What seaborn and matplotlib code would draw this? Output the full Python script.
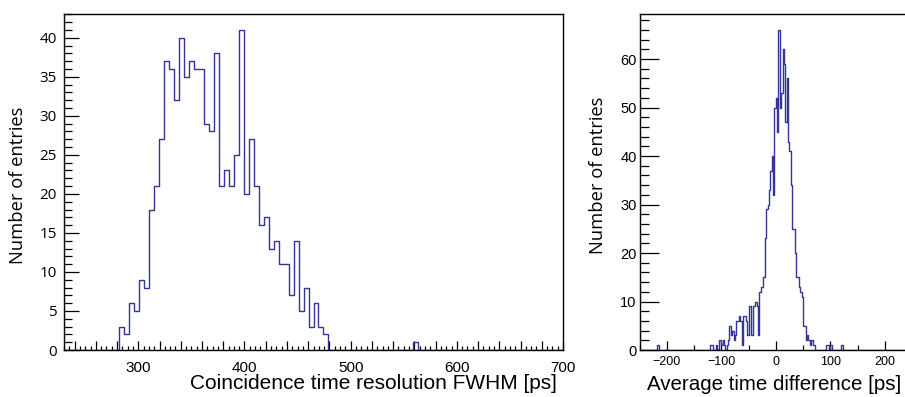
import numpy as np
import pandas as pd
import matplotlib
matplotlib.use("Agg")
import matplotlib.pyplot as plt
import seaborn as sns
from matplotlib.ticker import MultipleLocator, FuncFormatter

# ---------------- data ----------------
left_range = (230.0, 700.0)
left_nbins = 100
left_first_bin = 11
left_counts = [3, 2, 6, 5, 9, 8, 18, 21, 27, 37, 36, 32, 40, 35, 37, 36, 36,
               29, 28, 38, 21, 23, 21, 25, 41, 20, 27, 21, 16, 17, 13, 14,
               11, 11, 7, 14, 5, 8, 3, 6, 3, 2]
left_extra_bins = [70]
left_extra_counts = [1]

right_range = (-250.0, 250.0)
right_bin_width = 2.5
right_first_left = -120.0
right_counts = [1, 1, 0, 0, 1, 0, 2, 2, 1, 2, 1, 0, 1, 2, 5, 3, 4, 2, 3, 6,
                6, 7, 6, 1, 7, 7, 6, 3, 9, 9, 3, 9, 9, 10, 9, 3, 12, 13, 13,
                15, 23, 29, 30, 33, 37, 40, 32, 50, 52, 45, 66, 50, 53, 62,
                59, 47, 56, 43, 41, 34, 25, 25, 20, 15, 15, 13, 12, 11, 5, 5,
                2, 3, 2, 1, 2, 1, 1]
right_extra_lefts = [-217.5, 92.5, 95.0, 100.0, 120.0]
right_extra_counts = [1, 1, 1, 1, 1]

left_xlabel = "Coincidence time resolution FWHM [ps]"
right_xlabel = "Average time difference [ps]"
ylabel = "Number of entries"

# ---------------- build tables ----------------
left_edges = np.linspace(left_range[0], left_range[1], left_nbins + 1)
lw_bin = left_edges[1] - left_edges[0]
l_bins = list(range(left_first_bin, left_first_bin + len(left_counts))) + left_extra_bins
l_w = left_counts + left_extra_counts
left_df = pd.DataFrame({"x": [left_edges[k] + lw_bin / 2 for k in l_bins], "w": l_w})

right_edges = np.arange(right_range[0], right_range[1] + 1e-9, right_bin_width)
r_lefts = [right_first_left + right_bin_width * i for i in range(len(right_counts))] + right_extra_lefts
r_w = right_counts + right_extra_counts
right_df = pd.DataFrame({"x": [v + right_bin_width / 2 for v in r_lefts], "w": r_w})

# ---------------- plot ----------------
sns.set_style("white")
plt.rcParams["font.family"] = ["Liberation Sans", "DejaVu Sans"]
plt.rcParams["text.color"] = "black"
plt.rcParams["axes.labelcolor"] = "black"
HC = "#34349a"

fig = plt.figure(figsize=(9.05, 3.97), dpi=100)
axL = fig.add_axes([64 / 905, 47 / 397, 499 / 905, 336 / 397])
axR = fig.add_axes([639.5 / 905, 47 / 397, 272.5 / 905, 336 / 397])

sns.histplot(data=left_df, x="x", weights="w", bins=list(left_edges), element="step",
             fill=False, color=HC, linewidth=1.0, ax=axL)
sns.histplot(data=right_df, x="x", weights="w", bins=list(right_edges), element="step",
             fill=False, color=HC, linewidth=1.0, ax=axR)

axL.set_xlim(*left_range)
axL.set_ylim(0, max(left_counts) * 1.05)
axR.set_xlim(*right_range)
axR.set_ylim(0, max(right_counts) * 1.05)

for ax in (axL, axR):
    for s in ax.spines.values():
        s.set_color("black")
        s.set_linewidth(1.0)
    ax.tick_params(which="both", direction="in", bottom=True, left=True,
                   top=False, right=False, colors="black", labelcolor="black",
                   width=0.9)

# left axes ticks
axL.xaxis.set_major_locator(MultipleLocator(20))
axL.xaxis.set_minor_locator(MultipleLocator(5))
axL.xaxis.set_major_formatter(FuncFormatter(lambda v, p: f"{v:.0f}" if abs(v % 100) < 1e-6 else ""))
axL.yaxis.set_major_locator(MultipleLocator(5))
axL.yaxis.set_minor_locator(MultipleLocator(1))
axL.tick_params(axis="x", which="major", length=6.5, pad=8, labelsize=11)
axL.tick_params(axis="x", which="minor", length=3.2)
axL.tick_params(axis="y", which="major", length=10.8, pad=5, labelsize=11)
axL.tick_params(axis="y", which="minor", length=5.8)
for t in axL.get_yticklabels():
    t.set_family(["Open Sans", "DejaVu Sans"])

# right axes ticks
axR.xaxis.set_major_locator(MultipleLocator(100))
axR.xaxis.set_minor_locator(MultipleLocator(50))
axR.yaxis.set_major_locator(MultipleLocator(10))
axR.yaxis.set_minor_locator(MultipleLocator(2))
axR.tick_params(axis="x", which="major", length=6.5, pad=4, labelsize=9)
axR.tick_params(axis="x", which="minor", length=3.6)
axR.tick_params(axis="y", which="major", length=13.7, pad=2, labelsize=10.5)
axR.tick_params(axis="y", which="minor", length=6.5)

# labels
axL.set_xlabel(left_xlabel, fontsize=15, ha="right", va="center")
axL.xaxis.set_label_coords(0.988, -0.10)
axR.set_xlabel(right_xlabel, fontsize=14.8, ha="right", va="center")
axR.xaxis.set_label_coords(0.962, -0.104)

axL.set_ylabel(ylabel, fontsize=13.2, family=["Open Sans", "DejaVu Sans"], va="center")
axL.yaxis.set_label_coords(-0.092, 0.491)
axR.set_ylabel(ylabel, fontsize=13.2, family=["Open Sans", "DejaVu Sans"], va="center")
axR.yaxis.set_label_coords(-0.154, 0.521)

fig.savefig("out.png", dpi=100)
